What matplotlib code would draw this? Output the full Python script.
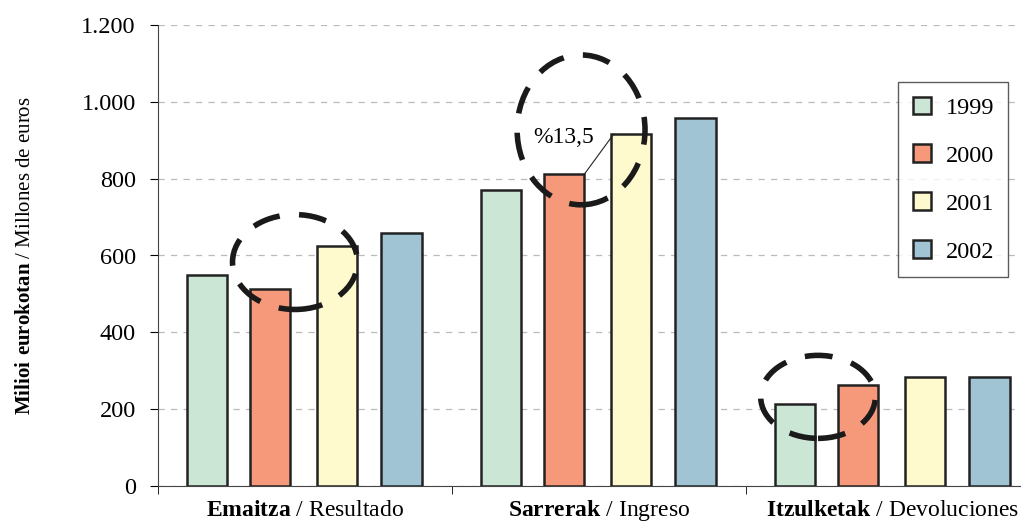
import numpy as np
import matplotlib.pyplot as plt
from matplotlib.patches import Ellipse
from matplotlib.ticker import FixedLocator

plt.rcParams['font.family'] = ['Liberation Serif', 'DejaVu Serif']
plt.rcParams['mathtext.fontset'] = 'custom'
plt.rcParams['mathtext.rm'] = 'Liberation Serif'
plt.rcParams['mathtext.bf'] = 'Liberation Serif:bold'

# Data (millones de euros)
categories = [r"$\mathbf{Emaitza}$ / Resultado",
              r"$\mathbf{Sarrerak}$ / Ingreso",
              r"$\mathbf{Itzulketak}$ / Devoluciones"]
years = ['1999', '2000', '2001', '2002']
v1999 = [549, 770, 213]
v2000 = [513, 812, 263]
v2001 = [625, 916, 284]
v2002 = [659, 958, 284]
series = [v1999, v2000, v2001, v2002]
colors = ['#cce6d5', '#f5997a', '#fffacd', '#a0c4d4']
yticks = [0, 200, 400, 600, 800, 1000, 1200]
ytick_labels = ['0', '200', '400', '600', '800', '1.000', '1.200']

fig = plt.figure(figsize=(10.21, 5.24), dpi=100)
ax = fig.add_axes([158 / 1021, (524 - 486) / 524, (1040 - 158) / 1021, (486 - 25) / 524])

x = np.arange(len(categories))
offsets = [-0.333, -0.118, 0.11, 0.328]
for vals, off, c, yr in zip(series, offsets, colors, years):
    ax.bar(x + off, vals, width=0.137, color=c, edgecolor='#222222',
           linewidth=1.8, label=yr, zorder=3)

ax.set_xlim(-0.5, 2.5)
ax.set_ylim(0, 1200)
ax.set_yticks(yticks)
ax.set_yticklabels(ytick_labels, fontsize=17.5)
ax.set_xticks(x)
ax.set_xticklabels([])
ax.tick_params(axis='x', which='major', length=0)
# category labels on a common baseline
for xi, lab in zip(x, categories):
    ax.text(xi, -30 / 461, lab, transform=ax.get_xaxis_transform(), fontsize=17,
            ha='center', va='baseline')
ax.xaxis.set_minor_locator(FixedLocator([-0.5, 0.5, 1.5]))
ax.tick_params(axis='x', which='minor', length=6, direction='out')
ax.tick_params(axis='y', length=6, direction='out', pad=10)
ax.yaxis.grid(True, linestyle=(0, (5, 5)), color='#bbbbbb', linewidth=0.9, zorder=0)
ax.spines['top'].set_visible(False)
ax.spines['right'].set_visible(False)
ax.spines['left'].set_color('#444444')
ax.spines['bottom'].set_color('#444444')
ax.set_axisbelow(True)

ax.set_ylabel(r"$\mathbf{Milioi\ eurokotan}$ / Millones de euros", fontsize=15, labelpad=33)

# dashed ellipses
for cx, cy, w, h in [(-0.034, 583, 0.425, 247), (0.939, 927, 0.435, 390), (1.745, 232, 0.39, 216)]:
    ax.add_patch(Ellipse((cx, cy), w, h, fill=False, edgecolor='#1a1a1a',
                         linewidth=4, linestyle=(0, (5, 3.5)), zorder=5, clip_on=False))

# annotation
ax.plot([1 - 0.118 + 0.0685, 1 + 0.11 - 0.06], [812, 916], color='#222222', linewidth=0.8, zorder=6)
ax.text(0.88, 906, '%13,5', fontsize=17, ha='center', va='center', zorder=6)

leg = ax.legend(loc='upper left', bbox_to_anchor=((898 - 158) / 882, (486 - 82) / 461),
                fontsize=17.5, frameon=True, fancybox=False, edgecolor='#333333',
                handlelength=0.75, handleheight=0.75, labelspacing=1.05,
                borderpad=0.6, handletextpad=0.6, borderaxespad=0)
leg.get_frame().set_linewidth(1)

fig.savefig('out.png', dpi=100)
